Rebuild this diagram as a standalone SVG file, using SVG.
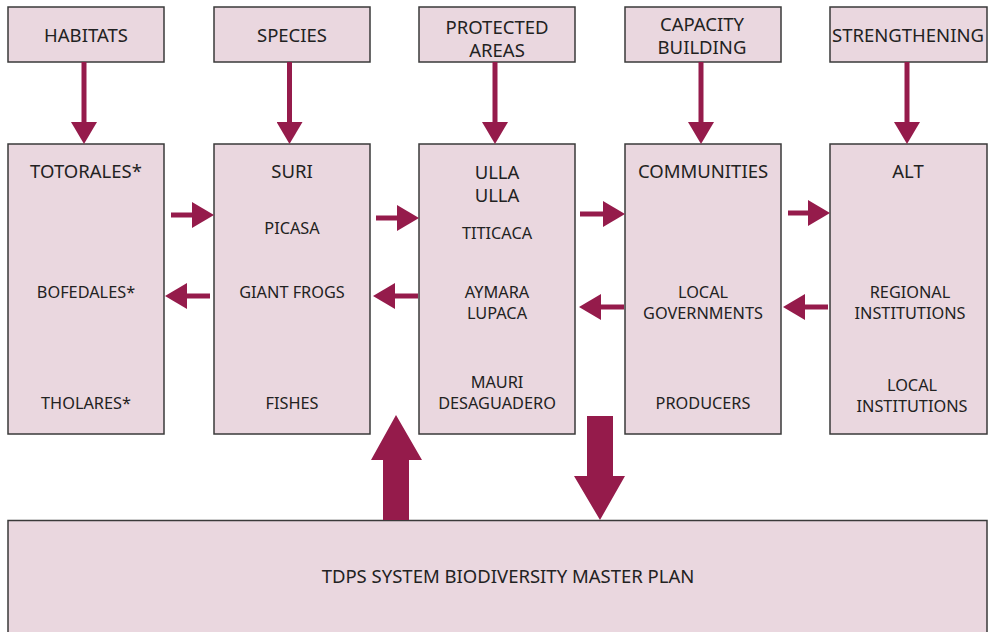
<svg xmlns="http://www.w3.org/2000/svg" width="989" height="632" viewBox="0 0 989 632">
<style>
.box{fill:#ead7df;stroke:#3a3a3a;stroke-width:1.5}
text{font-family:"Noto Sans","Open Sans",sans-serif;fill:#222;text-anchor:middle}
.t{font-size:18.5px}
.s{font-size:16.3px}
.ar{stroke:#951b4b;stroke-width:5;fill:none;marker-end:url(#ah)}
.big{fill:#951b4b}
</style>
<defs>
<marker id="ah" markerUnits="userSpaceOnUse" markerWidth="22" markerHeight="26" refX="0" refY="13" orient="auto">
<path d="M0,0 L22,13 L0,26 z" fill="#951b4b"/>
</marker>
</defs>
<rect width="989" height="632" fill="#fff"/>
<g id="habitats"><rect class="box" x="8" y="7" width="156" height="55"/><text class="t" x="86" y="42">HABITATS</text></g>
<g id="species"><rect class="box" x="214" y="7" width="156" height="55"/><text class="t" x="292" y="42">SPECIES</text></g>
<g id="protected"><rect class="box" x="419" y="7" width="156" height="55"/><text class="t" x="497" y="33.5">PROTECTED</text><text class="t" x="497" y="56.5">AREAS</text></g>
<g id="capacity"><rect class="box" x="625" y="7" width="156" height="55"/><text class="t" x="702" y="31">CAPACITY</text><text class="t" x="702" y="54">BUILDING</text></g>
<g id="strengthening"><rect class="box" x="830" y="7" width="157" height="55"/><text class="t" x="908" y="42">STRENGTHENING</text></g>

<g id="totorales"><rect class="box" x="8" y="144" width="156" height="290"/>
<text class="t" x="86" y="178">TOTORALES*</text><text class="s" x="86" y="298">BOFEDALES*</text><text class="s" x="86" y="409">THOLARES*</text></g>
<g id="suri"><rect class="box" x="214" y="144" width="156" height="290"/>
<text class="t" x="292" y="178">SURI</text><text class="s" x="292" y="234">PICASA</text><text class="s" x="292" y="298">GIANT FROGS</text><text class="s" x="292" y="409">FISHES</text></g>
<g id="ulla"><rect class="box" x="419" y="144" width="156" height="290"/>
<text class="t" x="497" y="179">ULLA</text><text class="t" x="497" y="201.7">ULLA</text>
<text class="s" x="497" y="239">TITICACA</text><text class="s" x="497" y="298">AYMARA</text><text class="s" x="497" y="319">LUPACA</text>
<text class="s" x="497" y="388">MAURI</text><text class="s" x="497" y="409">DESAGUADERO</text></g>
<g id="communities"><rect class="box" x="625" y="144" width="156" height="290"/>
<text class="t" x="703" y="178">COMMUNITIES</text><text class="s" x="703" y="298">LOCAL</text><text class="s" x="703" y="319">GOVERNMENTS</text><text class="s" x="703" y="409">PRODUCERS</text></g>
<g id="alt"><rect class="box" x="830" y="144" width="157" height="290"/>
<text class="t" x="908" y="178">ALT</text><text class="s" x="910" y="298">REGIONAL</text><text class="s" x="910" y="319">INSTITUTIONS</text><text class="s" x="912" y="391">LOCAL</text><text class="s" x="912" y="412">INSTITUTIONS</text></g>

<g id="masterplan"><rect class="box" x="8" y="520.5" width="979" height="120"/>
<text class="t" x="508" y="583">TDPS SYSTEM BIODIVERSITY MASTER PLAN</text></g>

<g id="connectors">
<line class="ar" x1="84" y1="62" x2="84" y2="122"/>
<line class="ar" x1="289.5" y1="62" x2="289.5" y2="122"/>
<line class="ar" x1="495" y1="62" x2="495" y2="122"/>
<line class="ar" x1="701" y1="62" x2="701" y2="122"/>
<line class="ar" x1="907" y1="62" x2="907" y2="122"/>

<line class="ar" x1="171" y1="215" x2="192" y2="215"/>
<line class="ar" x1="210" y1="296" x2="187" y2="296"/>
<line class="ar" x1="376" y1="218" x2="397" y2="218"/>
<line class="ar" x1="418" y1="296" x2="395" y2="296"/>
<line class="ar" x1="580" y1="214" x2="603" y2="214"/>
<line class="ar" x1="624" y1="307" x2="601" y2="307"/>
<line class="ar" x1="788" y1="213" x2="808" y2="213"/>
<line class="ar" x1="828" y1="307" x2="805" y2="307"/>

<polygon class="big" points="383,520 383,460 371,460 396,415 422,460 409,460 409,520"/>
<polygon class="big" points="587,416 613,416 613,476 625,476 600,520 574,476 587,476"/>
</g>
</svg>
